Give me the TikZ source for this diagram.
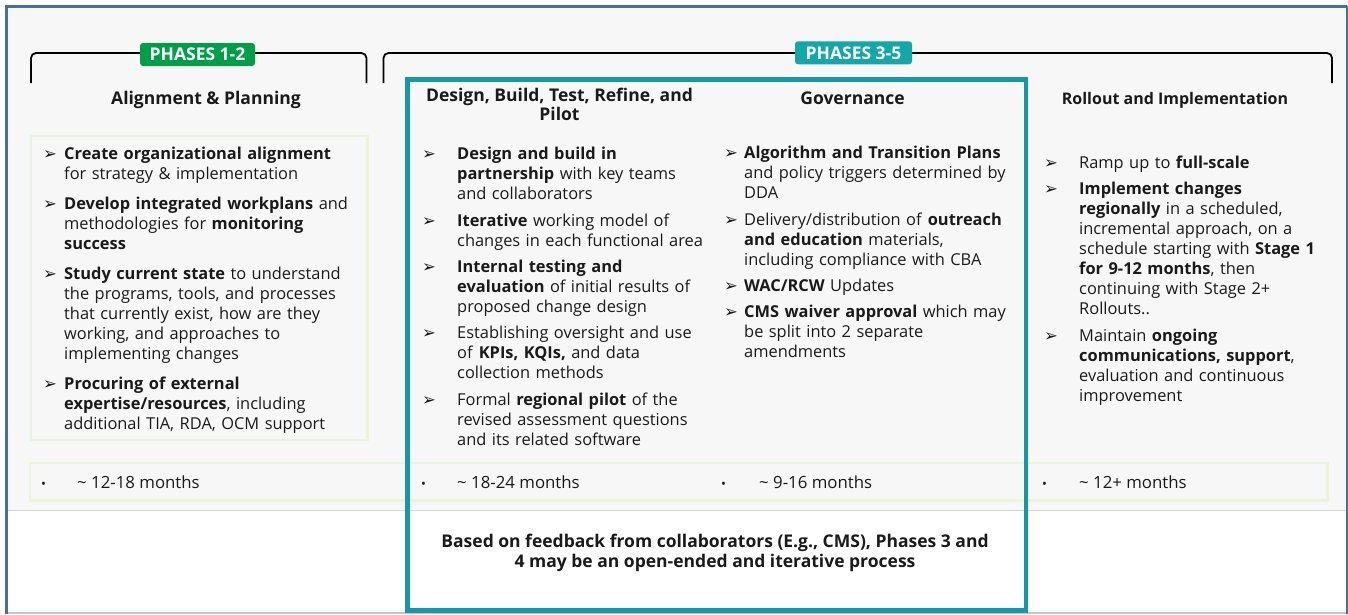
\documentclass[tikz,border=0pt]{standalone}
\usepackage{fontspec}
\setmainfont{Open Sans}
\newfontfamily\dingfont{DejaVu Sans}
\definecolor{frameblue}{RGB}{66,110,172}
\definecolor{framelow}{RGB}{188,200,216}
\definecolor{panelgray}{RGB}{247,247,247}
\definecolor{sepgray}{RGB}{214,214,214}
\definecolor{palegreen}{RGB}{232,245,214}
\definecolor{phasegreen}{RGB}{0,158,73}
\definecolor{phaseteal}{RGB}{20,166,168}
\definecolor{tealframe}{RGB}{22,150,168}
\definecolor{ink}{RGB}{26,26,26}
\tikzset{
  itemtext/.style={anchor=base west, inner sep=0pt, text width=330pt, align=left,
    text=ink, font=\fontsize{16.4}{20}\selectfont},
  arrowmark/.style={anchor=base west, inner sep=0pt, text=ink, font=\dingfont\fontsize{16.5}{16}\selectfont},
  dotmark/.style={anchor=base west, inner sep=0pt, text=ink, font=\fontsize{13}{14}\selectfont},
  monthtext/.style={anchor=base west, inner sep=0pt, text=ink, font=\fontsize{16.8}{20}\selectfont},
  colhead/.style={anchor=base, inner sep=0pt, align=center, text=ink, font=\bfseries\fontsize{17.5}{16}\selectfont},
  phasetag/.style={rounded corners=3pt, inner sep=0pt, text=white, font=\bfseries\fontsize{17.5}{18}\selectfont},
  bracket/.style={draw=black, line width=1.8pt, rounded corners=5pt},
  greenframe/.style={draw=palegreen, line width=2.6pt},
}
\begin{document}
\begin{tikzpicture}[x=1pt,y=-1pt]
\useasboundingbox (0,0) rectangle (1348,614);
% page and panel
\fill[white] (0,0) rectangle (1348,614);
\fill[panelgray] (7,7) rectangle (1346,510);
\draw[sepgray, line width=1.3pt] (7,510.5) -- (1346,510.5);
\draw[framelow, line width=1.6pt] (6,612.8) -- (1347,612.8);
\draw[frameblue, line width=3pt] (6.5,614) -- (6.5,6.5) -- (1347,6.5);
\draw[frameblue, line width=2pt] (1346.5,6) -- (1346.5,614);

% phase brackets
\draw[bracket] (31,83) -- (31,53) -- (366.5,53) -- (366.5,83);
\draw[bracket] (383.5,83) -- (383.5,53) -- (1332,53) -- (1332,83);
\node[phasetag, fill=phasegreen, minimum width=115pt, minimum height=23pt] (p12) at (197.5,54.5) {PHASES 1-2};
\node[phasetag, fill=phaseteal, minimum width=117pt, minimum height=23pt] (p35) at (853.5,52.8) {PHASES 3-5};

% column headings
\node[colhead] (h1) at (206,104) {Alignment \& Planning};
\node[colhead] (h2) at (559.5,120) {Design, Build, Test, Refine, and\\Pilot};
\node[colhead] (h3) at (852.5,104) {Governance};
\node[colhead, font=\bfseries\fontsize{16}{16}\selectfont] (h4) at (1175,104) {Rollout and Implementation};

% planning box
\draw[greenframe] (31,136) rectangle (367.5,440);

% column 1
\node[arrowmark] (a11) at (43,159) {➢};
\node[itemtext] (t11) at (64,159) {\textbf{Create organizational alignment}\\for strategy \& implementation};
\node[arrowmark] (a12) at (43,209) {➢};
\node[itemtext] (t12) at (64,209) {\textbf{Develop integrated workplans} and\\methodologies for \textbf{monitoring}\\\textbf{success}};
\node[arrowmark] (a13) at (43,279) {➢};
\node[itemtext] (t13) at (64,279) {\textbf{Study current state} to understand\\the programs, tools, and processes\\that currently exist, how are they\\working, and approaches to\\implementing changes};
\node[arrowmark] (a14) at (43,389) {➢};
\node[itemtext] (t14) at (64,389) {\textbf{Procuring of external}\\\textbf{expertise/resources}, including\\additional TIA, RDA, OCM support};

% column 2
\node[arrowmark] (a21) at (422,159) {➢};
\node[itemtext] (t21) at (457,159) {\textbf{Design and build in}\\\textbf{partnership} with key teams\\and collaborators};
\node[arrowmark] (a22) at (422,226) {➢};
\node[itemtext] (t22) at (457,226) {\textbf{Iterative} working model of\\changes in each functional area};
\node[arrowmark] (a23) at (422,272.5) {➢};
\node[itemtext] (t23) at (457,272.5) {\textbf{Internal testing and}\\\textbf{evaluation} of initial results of\\proposed change design};
\node[arrowmark] (a24) at (422,338.5) {➢};
\node[itemtext] (t24) at (457,338.5) {Establishing oversight and use\\of \textbf{KPIs, KQIs,} and data\\collection methods};
\node[arrowmark] (a25) at (422,405) {➢};
\node[itemtext] (t25) at (457,405) {Formal \textbf{regional pilot} of the\\revised assessment questions\\and its related software};

% column 3
\node[arrowmark] (a31) at (724,158.5) {➢};
\node[itemtext] (t31) at (744,158.5) {\textbf{Algorithm and Transition Plans}\\and policy triggers determined by\\DDA};
\node[arrowmark] (a32) at (724,225) {➢};
\node[itemtext] (t32) at (744,225) {Delivery/distribution of \textbf{outreach}\\\textbf{and education} materials,\\including compliance with CBA};
\node[arrowmark] (a33) at (724,291) {➢};
\node[itemtext] (t33) at (744,291) {\textbf{WAC/RCW} Updates};
\node[arrowmark] (a34) at (724,317.5) {➢};
\node[itemtext] (t34) at (744,317.5) {\textbf{CMS waiver approval} which may\\be split into 2 separate\\amendments};

% column 4
\node[arrowmark] (a41) at (1044,168) {➢};
\node[itemtext] (t41) at (1079,168) {Ramp up to \textbf{full-scale}};
\node[arrowmark] (a42) at (1044,194) {➢};
\node[itemtext] (t42) at (1079,194) {\textbf{Implement changes}\\\textbf{regionally} in a scheduled,\\incremental approach, on a\\schedule starting with \textbf{Stage 1}\\\textbf{for 9-12 months}, then\\continuing with Stage 2+\\Rollouts..};
\node[arrowmark] (a43) at (1044,341.5) {➢};
\node[itemtext] (t43) at (1079,341.5) {Maintain \textbf{ongoing}\\\textbf{communications, support},\\evaluation and continuous\\improvement};

% durations
\draw[greenframe] (30,463) rectangle (1327.5,500.5);
\node[dotmark] (d1) at (41,488) {•};
\node[monthtext] (m1) at (77,488.5) {\textasciitilde{} 12-18 months};
\node[dotmark] (d2) at (421,488) {•};
\node[monthtext] (m2) at (457,488.5) {\textasciitilde{} 18-24 months};
\node[dotmark] (d3) at (721,488) {•};
\node[monthtext] (m3) at (759,488.5) {\textasciitilde{} 9-16 months};
\node[dotmark] (d4) at (1042,488) {•};
\node[monthtext] (m4) at (1079,488.5) {\textasciitilde{} 12+ months};

% phases 3-5 frame
\draw[tealframe, line width=4.2pt] (407.5,79.5) rectangle (1026,610.5);
\node[anchor=base, inner sep=0pt, align=center, text=ink, font=\bfseries\fontsize{17.5}{20}\selectfont] (note) at (715,567)
  {Based on feedback from collaborators (E.g., CMS), Phases 3 and\\4 may be an open-ended and iterative process};
\end{tikzpicture}
\end{document}
